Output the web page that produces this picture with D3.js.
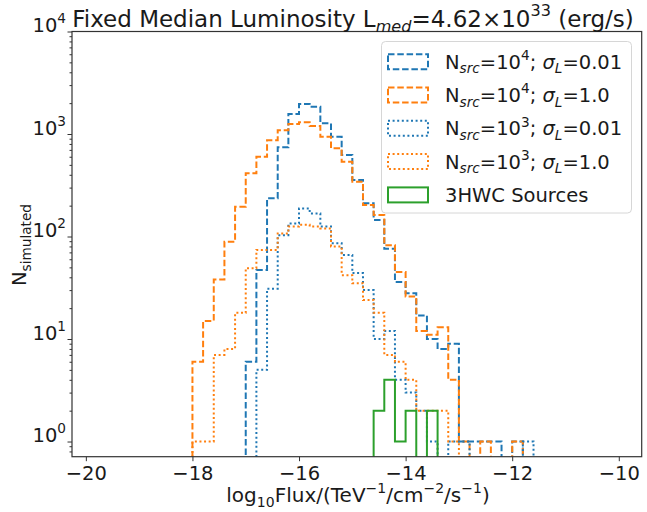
<!DOCTYPE html>
<html>
<head>
<meta charset="utf-8">
<script src="https://cdn.jsdelivr.net/npm/d3@7"></script>
<style>
  body { margin: 0; background: #fff; }
  text { font-family: "DejaVu Sans", sans-serif; fill: #1a1a1a; }
</style>
</head>
<body>
<div id="chart"></div>
<script>
// histogram bin edges (log10 flux), 0.2 wide
var binEdges = [-18.0, -17.8, -17.6, -17.4, -17.2, -17.0, -16.8, -16.6, -16.4, -16.2, -16.0,
                -15.8, -15.6, -15.4, -15.2, -15.0, -14.8, -14.6, -14.4, -14.2, -14.0,
                -13.8, -13.6, -13.4, -13.2, -13.0, -12.8, -12.6, -12.4, -12.2, -12.0, -11.8, -11.6];

// counts per bin
var n4Narrow = [0, 0, 0, 0, 0, 6, 47, 236, 742, 1567, 1963, 1846, 1272, 941, 624, 356,
                211, 145, 76, 36, 28, 17, 10, 8, 9, 1, 1, 1, 1, 0, 1, 0];
var n4Wide   = [6, 15, 38, 89, 195, 414, 600, 870, 1090, 1250, 1300, 1200, 940, 725, 537, 343,
                203, 162, 82, 45, 26, 12, 11, 13, 4, 1, 0, 1, 0, 0, 1, 0];
var n3Narrow = [0, 0, 0, 0, 0, 0, 5, 31, 103, 134, 188, 168, 125, 86, 66, 44,
                30, 10, 12, 4, 3, 2, 1, 0, 1, 1, 0, 0, 0, 0, 0, 1];
var n3Wide   = [1, 1, 7, 8, 18, 49, 74, 74, 107, 125, 130, 125, 120, 80, 42, 35,
                24, 18, 7, 6, 4, 2, 2, 2, 1, 0, 0, 0, 0, 0, 0, 0];

var hwcEdges  = [-14.6, -14.4, -14.2, -14.0, -13.8, -13.6, -13.4];
var hwcCounts = [2, 4, 1, 2, 0, 2];

var xTicks = [-20, -18, -16, -14, -12, -10];
var yTicks = [1, 10, 100, 1000, 10000];

// label pieces: [text, kind]  kind: "" normal, "i" italic, "sub", "sup", "sub-i"
var legendLabels = [
  [["N", ""], ["src", "sub-i"], ["=10", ""], ["4", "sup"], ["; ", ""], ["σ", "i"], ["L", "sub-i"], ["=0.01", ""]],
  [["N", ""], ["src", "sub-i"], ["=10", ""], ["4", "sup"], ["; ", ""], ["σ", "i"], ["L", "sub-i"], ["=1.0", ""]],
  [["N", ""], ["src", "sub-i"], ["=10", ""], ["3", "sup"], ["; ", ""], ["σ", "i"], ["L", "sub-i"], ["=0.01", ""]],
  [["N", ""], ["src", "sub-i"], ["=10", ""], ["3", "sup"], ["; ", ""], ["σ", "i"], ["L", "sub-i"], ["=1.0", ""]],
  [["3HWC Sources", ""]]
];
var titleParts = [["Fixed Median Luminosity L", ""], ["med", "sub-i"], ["=4.62×10", ""], ["33", "sup"], [" (erg/s)", ""]];
var xLabelParts = [["log", ""], ["10", "sub"], ["Flux/(TeV", ""], ["−1", "sup"], ["/cm", ""], ["−2", "sup"], ["/s", ""], ["−1", "sup"], [")", ""]];
var yLabelParts = [["N", ""], ["simulated", "sub"]];

var blue = "#1f77b4", orange = "#ff7f0e", green = "#2ca02c";
var dashed = "6.5,2.8", dotted = "2,2.6";

var series = [
  {edges: binEdges, counts: n4Narrow, color: blue,   dash: dashed},
  {edges: binEdges, counts: n4Wide,   color: orange, dash: dashed},
  {edges: binEdges, counts: n3Narrow, color: blue,   dash: dotted},
  {edges: binEdges, counts: n3Wide,   color: orange, dash: dotted},
  {edges: hwcEdges, counts: hwcCounts, color: green, dash: null}
];

var W = 647, H = 512, fs = 19.5;
var margin = {top: 31.5, right: 5.3, bottom: 55.3, left: 72},
    width = W - margin.left - margin.right,
    height = H - margin.top - margin.bottom;

var svg = d3.select("#chart").append("svg")
    .attr("width", W)
    .attr("height", H);

var g = svg.append("g")
    .attr("transform", "translate(" + margin.left + "," + margin.top + ")");

var x = d3.scaleLinear().domain([-20.26, -9.57]).range([0, width]);
var y = d3.scaleLog().domain([0.711, 10000]).range([height, 0]);

// write mathtext-like label into a text element
function richText(sel, parts, size) {
  var shift = 0;
  parts.forEach(function(p) {
    var kind = p[1] || "", target = 0, s = size;
    if (kind.indexOf("sub") === 0) { target = 0.24 * size; s = 0.7 * size; }
    if (kind.indexOf("sup") === 0) { target = -0.45 * size; s = 0.7 * size; }
    sel.append("tspan")
      .attr("dy", (target - shift).toFixed(2))
      .style("font-size", s + "px")
      .style("font-style", (kind === "i" || kind === "sub-i") ? "italic" : null)
      .text(p[0]);
    shift = target;
  });
}

// clip so that zero bins drop below the axis
g.append("clipPath").attr("id", "plotClip")
  .append("rect").attr("width", width).attr("height", height);

function yPos(c) { return c > 0 ? y(c) : height + 10; }

var line = d3.line().x(d => x(d[0])).y(d => yPos(d[1]));

function stepPoints(edges, counts) {
  var pts = [[edges[0], 0]];
  counts.forEach(function(c, i) {
    pts.push([edges[i], c]);
    pts.push([edges[i + 1], c]);
  });
  pts.push([edges[edges.length - 1], 0]);
  return pts;
}

g.append("g").attr("clip-path", "url(#plotClip)")
  .selectAll("path")
  .data(series)
  .enter()
  .append("path")
    .attr("d", d => line(stepPoints(d.edges, d.counts)))
    .attr("fill", "none")
    .attr("stroke", d => d.color)
    .attr("stroke-width", 2)
    .attr("stroke-dasharray", d => d.dash);

// axes
var xAxis = g.append("g")
  .attr("transform", "translate(0," + height + ")")
  .call(d3.axisBottom(x).tickValues(xTicks).tickSize(4.5).tickPadding(5).tickSizeOuter(0));
xAxis.selectAll("text").style("font-size", fs + "px").attr("fill", "#1a1a1a");

var minorTicks = [];
[0.1, 1, 10, 100, 1000].forEach(function(dec) {
  for (var k = 2; k <= 9; k++) {
    var v = k * dec;
    if (v > 0.711 && v < 10000) minorTicks.push(v);
  }
});
g.append("g")
  .attr("class", "minor")
  .call(d3.axisLeft(y).tickValues(minorTicks).tickSize(2.5).tickFormat("").tickSizeOuter(0));

var yAxis = g.append("g")
  .call(d3.axisLeft(y).tickValues(yTicks).tickSize(4.5).tickPadding(1.5).tickSizeOuter(0));
yAxis.selectAll("text").each(function(d) {
  var t = d3.select(this).text("").style("font-size", fs + "px").attr("fill", "#1a1a1a");
  richText(t, [["10", ""], [String(Math.round(Math.log10(d))), "sup"]], fs);
});

g.selectAll(".domain").remove();
g.selectAll(".tick line").attr("stroke", "#333");

// frame
g.append("rect")
  .attr("width", width)
  .attr("height", height)
  .attr("fill", "none")
  .attr("stroke", "#333")
  .attr("stroke-width", 1.2);

// title and axis labels
var title = svg.append("text")
  .attr("x", 353)
  .attr("y", 26.5)
  .attr("text-anchor", "middle")
  .style("font-size", "23px");
richText(title, titleParts, 23);

var xLab = svg.append("text")
  .attr("x", 358)
  .attr("y", 502)
  .attr("text-anchor", "middle")
  .style("font-size", "20px");
richText(xLab, xLabelParts, 20);

var yLab = svg.append("text")
  .attr("transform", "translate(26,245) rotate(-90)")
  .attr("text-anchor", "middle")
  .style("font-size", fs + "px");
richText(yLab, yLabelParts, fs);

// legend
var legend = svg.append("g");
legend.append("rect")
  .attr("x", 381.5).attr("y", 41.5)
  .attr("width", 250).attr("height", 171.5)
  .attr("rx", 4)
  .attr("fill", "#fff").attr("fill-opacity", 0.8)
  .attr("stroke", "#d6d6d6");

var rows = legend.selectAll("g.row")
  .data(series)
  .enter()
  .append("g")
    .attr("class", "row")
    .attr("transform", (d, i) => "translate(388," + (61.7 + i * 33.3) + ")");

rows.append("rect")
  .attr("x", 0).attr("y", -7.5)
  .attr("width", 40).attr("height", 15)
  .attr("fill", "none")
  .attr("stroke", d => d.color)
  .attr("stroke-width", 2)
  .attr("stroke-dasharray", d => d.dash);

rows.append("text")
  .attr("x", 57)
  .attr("y", 7)
  .style("font-size", fs + "px")
  .each(function(d, i) { richText(d3.select(this), legendLabels[i], fs); });
</script>
</body>
</html>
